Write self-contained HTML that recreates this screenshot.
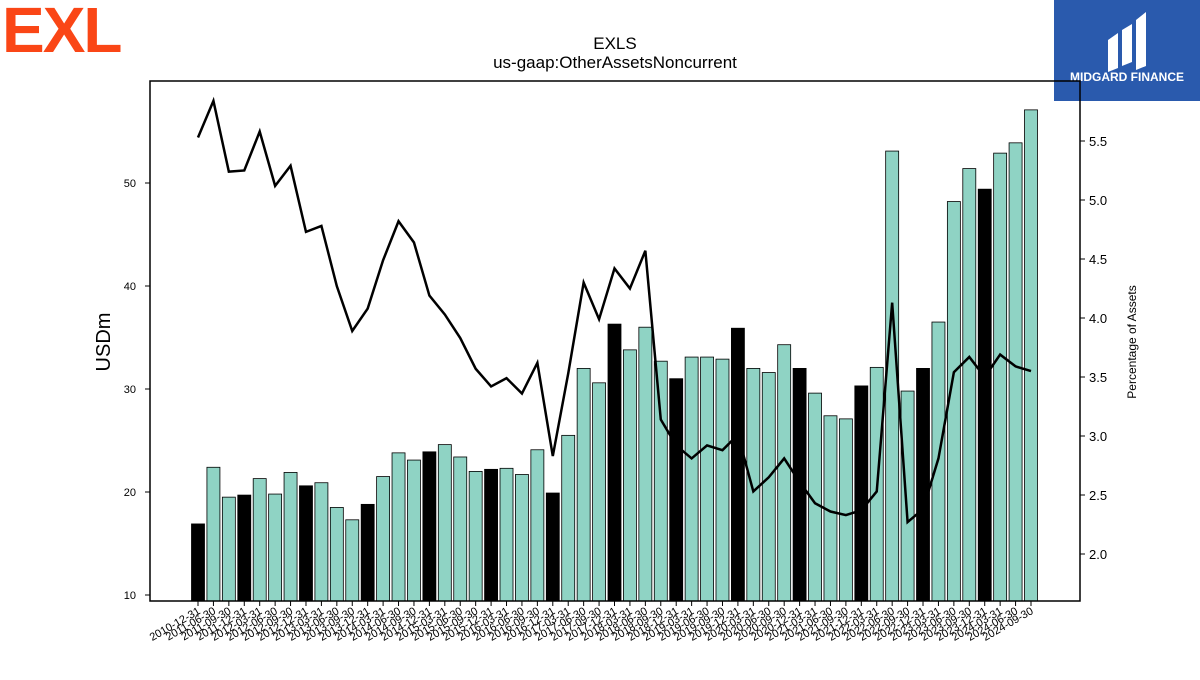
<!DOCTYPE html>
<html><head><meta charset="utf-8"><style>
body{margin:0;background:#fff;font-family:"Liberation Sans",sans-serif;}
svg text{font-family:"Liberation Sans","DejaVu Sans",sans-serif;}
</style></head><body>
<svg id="chart" width="1200" height="675" xmlns="http://www.w3.org/2000/svg">
<rect width="1200" height="675" fill="#fff"/>
<text x="2" y="52" font-size="64" font-weight="bold" fill="#fa4616" font-family="Liberation Sans" letter-spacing="-2">EXL</text>
<g>
<rect x="1054" y="0" width="146" height="101" fill="#2a5aad"/>
<path d="M1108 40 L1118 33 L1118 68 L1108 72 Z M1122 30 L1132 24 L1132 62 L1122 66 Z M1136 20 L1146 12 L1146 66 L1136 70 Z" fill="#fff"/>
<text x="1127" y="81" font-size="12" font-weight="bold" fill="#fff" text-anchor="middle">MIDGARD FINANCE</text>
</g>
<text x="615" y="49" font-size="17" text-anchor="middle">EXLS</text>
<text x="615" y="68" font-size="17" text-anchor="middle">us-gaap:OtherAssetsNoncurrent</text>
<g id="bars"></g><g id="line"></g><g id="axes"></g>
<rect x="150" y="81" width="930" height="520" fill="none" stroke="#000" stroke-width="1.5"/>
<text transform="translate(110,342) rotate(-90)" font-size="20" text-anchor="middle">USDm</text>
<text transform="translate(1136,342) rotate(-90)" font-size="12" text-anchor="middle">Percentage of Assets</text>
</svg>
<script>
const dates=["2010-12-31","2011-06-30","2011-09-30","2011-12-31"];
for(let y=2012;y<=2024;y++){for(const q of ["03-31","06-30","09-30","12-31"]){if(y===2024&&q==="12-31")continue;dates.push(y+"-"+q);}}
const values=[16.9,22.4,19.5,19.7,21.3,19.8,21.9,20.6,20.9,18.5,17.3,18.8,21.5,23.8,23.1,23.9,24.6,23.4,22.0,22.2,22.3,21.7,24.1,19.9,25.5,32.0,30.6,36.3,33.8,36.0,32.7,31.0,33.1,33.1,32.9,35.9,32.0,31.6,34.3,32.0,29.6,27.4,27.1,30.3,32.1,53.1,29.8,32.0,36.5,48.2,51.4,49.4,52.9,53.9,57.1];
const pct=[5.53,5.84,5.24,5.25,5.58,5.12,5.29,4.73,4.78,4.27,3.89,4.08,4.49,4.82,4.64,4.19,4.03,3.83,3.57,3.42,3.49,3.36,3.62,2.83,3.53,4.30,3.99,4.42,4.25,4.57,3.14,2.92,2.81,2.92,2.88,3.01,2.53,2.65,2.81,2.61,2.43,2.36,2.33,2.37,2.53,4.13,2.27,2.38,2.81,3.54,3.67,3.50,3.69,3.59,3.55];
const leftTicks=[10,20,30,40,50];
const rightTicks=[2.0,2.5,3.0,3.5,4.0,4.5,5.0,5.5];
const NS="http://www.w3.org/2000/svg";
const yL=v=>595-(v-10)*10.3;
const yR=p=>554-(p-2)*118;
const xS=i=>198+i*(1031-198)/(dates.length-1);
function mk(t,a,parent){const e=document.createElementNS(NS,t);for(const k in a)e.setAttribute(k,a[k]);parent.appendChild(e);return e;}
const bars=document.getElementById('bars'),line=document.getElementById('line'),axes=document.getElementById('axes');
values.forEach((v,i)=>{
 const black=dates[i].endsWith("12-31");
 const r=mk('rect',{x:xS(i)-6.5,y:yL(v),width:13,height:601-yL(v),fill:black?'#000':'#8fd3c4',stroke:'#000','stroke-width':0.8},bars);
 
 
 const t=mk('line',{x1:xS(i),x2:xS(i),y1:601,y2:606,stroke:'#000'},axes);
 
 
 const lb=mk('text',{x:xS(i)+3,y:613,'font-size':11,'text-anchor':'end',transform:`rotate(-30 ${xS(i)+3} 613)`},axes);
 lb.textContent=dates[i];
 
 
});
const pl=mk('polyline',{points:pct.map((p,i)=>xS(i)+','+yR(p)).join(' '),fill:'none',stroke:'#000','stroke-width':2.5},line);


leftTicks.forEach(v=>{
 const t=mk('line',{x1:145,x2:150,y1:yL(v),y2:yL(v),stroke:'#000'},axes);
 
 
 const l=mk('text',{x:136,y:yL(v)+4,'font-size':11,'text-anchor':'end'},axes);
 l.textContent=v;
 
 
});
rightTicks.forEach(p=>{
 const t=mk('line',{x1:1080,x2:1085,y1:yR(p),y2:yR(p),stroke:'#000'},axes);
 
 
 const l=mk('text',{x:1089,y:yR(p)+5,'font-size':13},axes);
 l.textContent=p.toFixed(1);
 
 
});
</script>
</body></html>
